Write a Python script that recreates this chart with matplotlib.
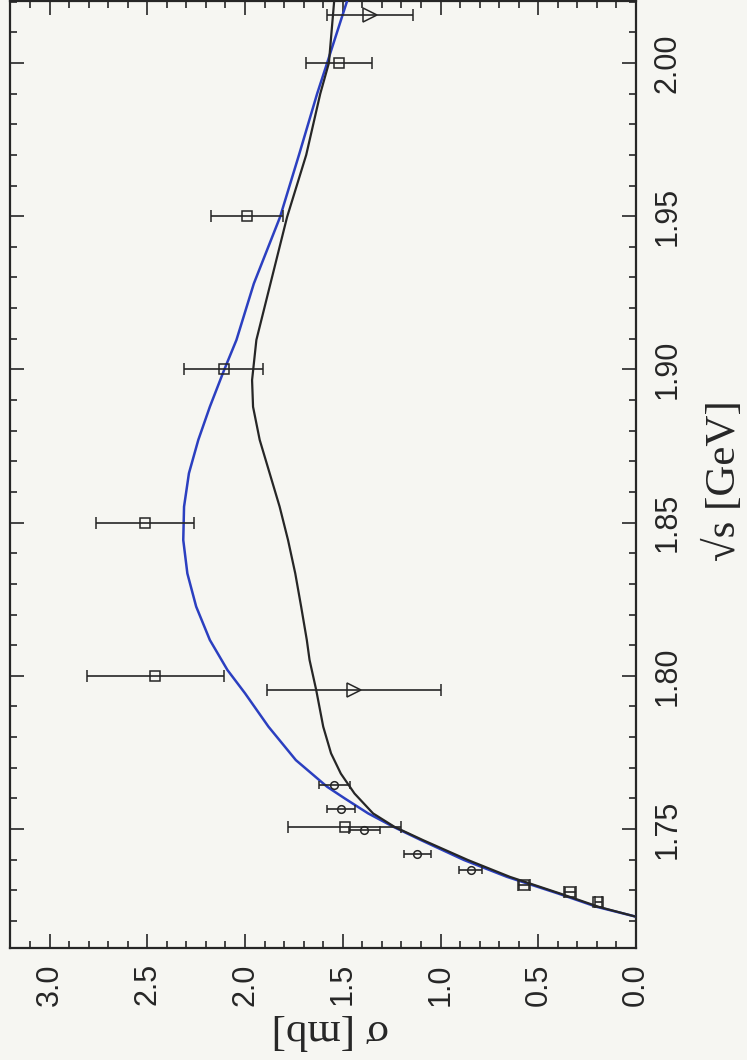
import numpy as np
import matplotlib.pyplot as plt
from matplotlib.ticker import MultipleLocator, FormatStrFormatter

# chart is drawn turned by 90 degrees: sigma runs horizontally (right to left),
# sqrt(s) runs vertically (bottom to top)

# open squares
sq_roots = [2.000, 1.950, 1.900, 1.850, 1.800, 1.7508, 1.7317, 1.7295, 1.7263]
sq_sigma = [1.52, 1.99, 2.11, 2.51, 2.46, 1.49, 0.574, 0.336, 0.192]
sq_err   = [0.17, 0.185, 0.20, 0.25, 0.35, 0.29, 0.03, 0.03, 0.02]

# open triangles
tri_roots = [2.0157, 1.7954]
tri_sigma = [1.36, 1.445]
tri_err   = [0.22, 0.445]

# open circles
ci_roots = [1.7644, 1.7567, 1.7497, 1.7420, 1.7366]
ci_sigma = [1.543, 1.509, 1.39, 1.118, 0.846]
ci_err   = [0.08, 0.07, 0.08, 0.07, 0.06]

# blue model curve
blue_roots = [1.7214, 1.7246, 1.7290, 1.7344, 1.7399, 1.7464, 1.7507, 1.7551,
              1.7600, 1.7638, 1.7725, 1.7834, 1.7943, 1.8019, 1.8117, 1.8226,
              1.8334, 1.8443, 1.8552, 1.8661, 1.8770, 1.8878, 1.8998, 1.9096,
              1.9280, 1.9497, 1.9700, 1.9900, 2.0000, 2.0202]
blue_sigma = [0.00, 0.20, 0.40, 0.66, 0.88, 1.10, 1.24, 1.37,
              1.49, 1.58, 1.74, 1.88, 2.00, 2.09, 2.18, 2.25,
              2.295, 2.316, 2.312, 2.287, 2.239, 2.18, 2.107, 2.044,
              1.955, 1.821, 1.724, 1.631, 1.58, 1.478]

# black model curve
black_roots = [1.7214, 1.7246, 1.7290, 1.7344, 1.7399, 1.7464, 1.7507, 1.7551,
               1.7616, 1.7681, 1.7747, 1.7834, 1.7954, 1.8052, 1.8117, 1.8226,
               1.8334, 1.8443, 1.8552, 1.8661, 1.8770, 1.8878, 1.8965, 1.9096,
               1.9280, 1.9497, 1.9700, 1.9900, 2.0000, 2.0202]
black_sigma = [0.00, 0.19, 0.39, 0.645, 0.86, 1.09, 1.235, 1.345,
               1.44, 1.51, 1.56, 1.60, 1.636, 1.67, 1.684, 1.713,
               1.743, 1.78, 1.823, 1.874, 1.925, 1.959, 1.964, 1.942,
               1.87, 1.785, 1.687, 1.615, 1.571, 1.544]

sigma_ticks = np.arange(0, 3.01, 0.5)
roots_ticks = np.arange(1.75, 2.001, 0.05)

bg = '#f6f6f2'
ink = '#262626'

fig = plt.figure(figsize=(7.47, 10.6), dpi=100, facecolor=bg)
ax = fig.add_axes([0.014, 0.1057, 0.8374, 0.8933], facecolor=bg)

ax.plot(blue_sigma, blue_roots, color='#2b3fc0', lw=1.8, zorder=3,
        solid_joinstyle='round')
ax.plot(black_sigma, black_roots, color=ink, lw=1.6, zorder=3,
        solid_joinstyle='round')

ebk = dict(ecolor=ink, elinewidth=1.2, capthick=1.2, mec=ink, mfc='none',
           mew=1.1, ls='none', zorder=4)
ax.errorbar(sq_sigma, sq_roots, xerr=sq_err, fmt='s', ms=7, capsize=4.3, **ebk)
ax.errorbar(tri_sigma, tri_roots, xerr=tri_err, fmt='>', ms=10, capsize=4.3, **ebk)
ax.errorbar(ci_sigma, ci_roots, xerr=ci_err, fmt='o', ms=5.5, capsize=3, **ebk)

ax.set_xlim(3.2, 0)
ax.set_ylim(1.7112, 2.0202)

ax.set_xticks(sigma_ticks)
ax.set_yticks(roots_ticks)
ax.xaxis.set_minor_locator(MultipleLocator(0.1))
ax.yaxis.set_minor_locator(MultipleLocator(0.01))
ax.xaxis.set_major_formatter(FormatStrFormatter('%.1f'))
ax.yaxis.set_major_formatter(FormatStrFormatter('%.2f'))

ax.tick_params(which='both', direction='in', top=True, bottom=True,
               left=True, right=True, labelleft=False, labelright=True,
               color=ink, width=1.2)
ax.tick_params(which='major', length=10)
ax.tick_params(which='minor', length=5)
ax.tick_params(axis='x', labelrotation=90, pad=11)
ax.tick_params(axis='y', labelrotation=90, pad=12)
for lab in ax.get_xticklabels() + ax.get_yticklabels():
    lab.set_fontfamily('Liberation Sans')
    lab.set_fontsize(22)
    lab.set_color(ink)
for lab in ax.get_yticklabels():
    lab.set_va('center')

for sp in ax.spines.values():
    sp.set_linewidth(1.6)
    sp.set_color(ink)

ax.set_xlabel('σ [mb]', rotation=180, family='Liberation Serif', fontsize=31,
              color=ink, va='center', ha='center')
ax.xaxis.set_label_coords(0.511, -0.0865)
ax.yaxis.set_label_position('right')
ax.set_ylabel('√s [GeV]', rotation=90, family='Liberation Serif', fontsize=31,
              color=ink, va='center', ha='center')
ax.yaxis.set_label_coords(1.1407, 0.494)

fig.savefig('out.png', dpi=100, facecolor=bg)
